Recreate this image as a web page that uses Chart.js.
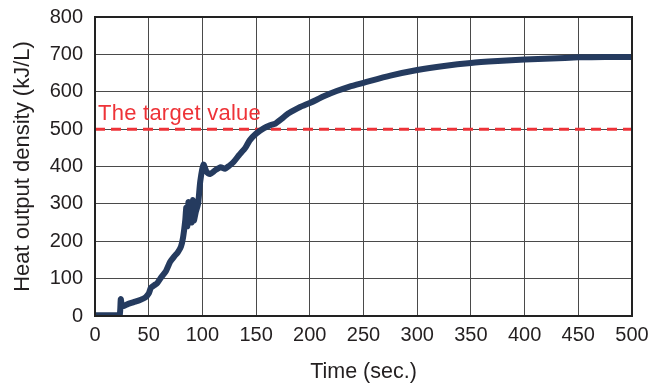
<!DOCTYPE html>
<html>
<head>
<meta charset="utf-8">
<script src="https://cdn.jsdelivr.net/npm/chart.js@4/dist/chart.umd.min.js"></script>
<style>
  html, body { margin: 0; padding: 0; background: #fff; }
  #wrap { width: 659px; height: 385px; position: relative; }
</style>
</head>
<body>
<div id="wrap"><canvas id="c" width="659" height="385"></canvas></div>
<script>
const timeSec = [0, 10, 20, 23, 24, 25, 27, 30, 36, 42, 47, 50, 52, 55, 58, 62, 66, 70, 74, 77, 80, 82, 84, 85, 86, 87, 88, 89, 90, 91, 92, 94, 96, 98, 101, 104, 107, 112, 117, 121, 125, 129, 134, 140, 144, 150, 157, 163, 168, 174, 179, 185, 191, 200, 206, 213, 225, 237, 250, 275, 300, 325, 350, 375, 400, 425, 450, 475, 500];
const heatDensity = [2, 2, 2, 2, 45, 30, 27, 31, 37, 43, 50, 60, 75, 82, 88, 105, 120, 145, 160, 170, 185, 210, 255, 290, 240, 305, 260, 300, 250, 310, 255, 280, 300, 360, 405, 385, 380, 390, 398, 394, 402, 412, 430, 450, 470, 488, 502, 510, 515, 528, 540, 550, 559, 570, 578, 588, 602, 614, 624, 643, 658, 669, 677, 682, 686, 689, 692, 693, 693];
const targetTimes = [0, 500];
const targetValues = [500, 500];
const targetLabel = 'The target value';
const xTicks = [0, 50, 100, 150, 200, 250, 300, 350, 400, 450, 500];
const yTicks = [0, 100, 200, 300, 400, 500, 600, 700, 800];

const FONT = "'Liberation Sans', Arial, Helvetica, sans-serif";

const framePlugin = {
  id: 'frame',
  afterDatasetsDraw(chart) {
    const {ctx, chartArea: a, scales} = chart;
    ctx.save();
    ctx.font = '22px ' + FONT;
    if ('letterSpacing' in ctx) ctx.letterSpacing = '0.25px';
    ctx.fillStyle = '#ee3338';
    ctx.textAlign = 'left';
    ctx.textBaseline = 'alphabetic';
    ctx.fillText(targetLabel, a.left + 3, scales.y.getPixelForValue(targetValues[0]) - 9);
    if ('letterSpacing' in ctx) ctx.letterSpacing = '0px';
    ctx.strokeStyle = '#222';
    ctx.lineWidth = 2;
    ctx.strokeRect(a.left, a.top, a.right - a.left, a.bottom - a.top);
    ctx.restore();
  }
};

new Chart(document.getElementById('c'), {
  type: 'line',
  data: {
    datasets: [
      {
        data: timeSec.map((t, i) => ({x: t, y: heatDensity[i]})),
        borderColor: '#253b5f',
        borderWidth: 6,
        pointRadius: 0,
        tension: 0.2,
        borderJoinStyle: 'round',
        borderCapStyle: 'round'
      },
      {
        data: targetTimes.map((t, i) => ({x: t, y: targetValues[i]})),
        borderColor: '#ee3338',
        borderWidth: 3,
        borderDash: [10, 6],
        pointRadius: 0
      }
    ]
  },
  options: {
    responsive: false,
    animation: false,
    layout: { padding: { top: 17, right: 27, left: 0, bottom: 0 } },
    plugins: { legend: { display: false }, tooltip: { enabled: false } },
    scales: {
      x: {
        type: 'linear', min: 0, max: 500,
        afterBuildTicks: s => { s.ticks = xTicks.map(v => ({value: v})); },
        afterFit: s => { s.height = 69; s.paddingLeft = 0; s.paddingRight = 0; },
        ticks: { color: '#231f20', font: { family: FONT, size: 20 }, padding: 7, maxRotation: 0 },
        grid: { color: '#4a4a4a', lineWidth: 1, drawTicks: false },
        border: { display: true, color: '#222', width: 2 },
        title: { display: true, text: 'Time (sec.)', color: '#231f20', font: { family: FONT, size: 21.5 }, padding: { top: 0, bottom: 0 } }
      },
      y: {
        type: 'linear', min: 0, max: 800,
        afterBuildTicks: s => { s.ticks = yTicks.map(v => ({value: v})); },
        afterFit: s => { s.width = 95; s.paddingTop = 0; s.paddingBottom = 0; },
        ticks: { color: '#231f20', font: { family: FONT, size: 20 }, padding: 12 },
        grid: { color: '#4a4a4a', lineWidth: 1, drawTicks: false },
        border: { display: true, color: '#222', width: 2 },
        title: { display: true, text: 'Heat output density (kJ/L)', color: '#231f20', font: { family: FONT, size: 22 }, padding: { top: 10, bottom: 0 } }
      }
    }
  },
  plugins: [framePlugin]
});
</script>
</body>
</html>
